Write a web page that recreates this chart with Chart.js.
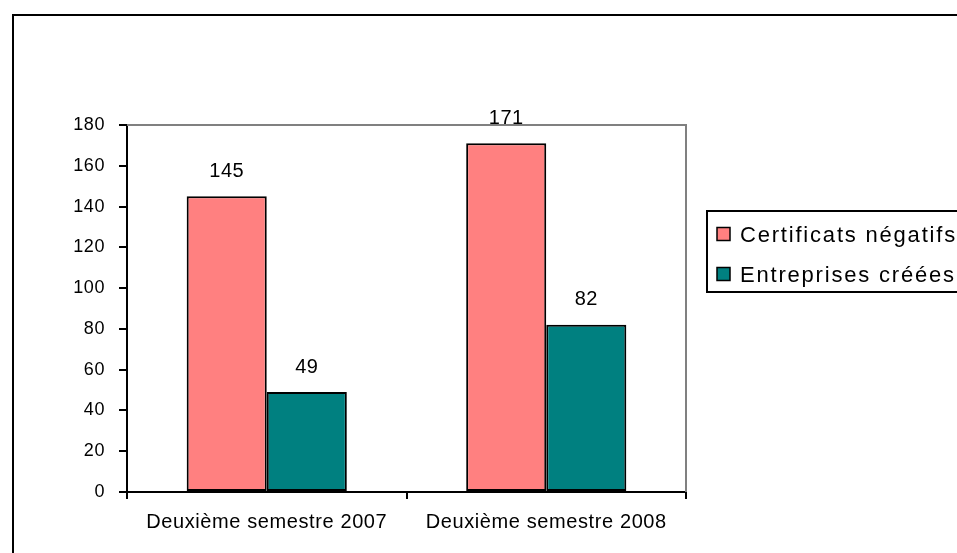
<!DOCTYPE html>
<html>
<head>
<meta charset="utf-8">
<script src="https://cdn.jsdelivr.net/npm/chart.js@4.4.1/dist/chart.umd.min.js"></script>
<style>
html,body{margin:0;padding:0;background:#fff;}
#wrap{position:relative;width:957px;height:553px;}
</style>
</head>
<body>
<div id="wrap"><canvas id="c" width="957" height="553"></canvas></div>
<script>
const categories = ["Deuxième semestre 2007", "Deuxième semestre 2008"];
const certificatsNegatifs = [145, 171];
const entreprisesCreees = [49, 82];
const seriesNames = ["Certificats négatifs", "Entreprises créées"];
const yTicks = [0, 20, 40, 60, 80, 100, 120, 140, 160, 180];

const FONT = "'Liberation Sans', Arial, sans-serif";

const framePlugin = {
  id: 'frame',
  beforeDraw(chart) {
    const ctx = chart.ctx;
    ctx.save();
    ctx.fillStyle = '#fff';
    ctx.fillRect(0, 0, chart.width, chart.height);
    ctx.strokeStyle = '#000';
    ctx.lineWidth = 2;
    ctx.strokeRect(13, 15, chart.width + 20, chart.height + 20);
    ctx.restore();
    ctx.letterSpacing = '0.6px';
  },
  beforeDatasetsDraw(chart) {
    const ctx = chart.ctx, a = chart.chartArea;
    ctx.save();
    ctx.strokeStyle = '#808080';
    ctx.lineWidth = 2;
    ctx.beginPath();
    ctx.moveTo(a.left, a.top);
    ctx.lineTo(a.right, a.top);
    ctx.lineTo(a.right, a.bottom);
    ctx.stroke();
    ctx.restore();
  },
  afterDatasetsDraw(chart) {
    const ctx = chart.ctx;
    ctx.save();
    ctx.letterSpacing = '0.5px';
    ctx.fillStyle = '#000';
    ctx.font = '20px ' + FONT;
    ctx.textAlign = 'center';
    ctx.textBaseline = 'middle';
    chart.data.datasets.forEach((ds, i) => {
      const meta = chart.getDatasetMeta(i);
      meta.data.forEach((bar, j) => {
        ctx.fillText(String(ds.data[j]), bar.x, bar.y - 25);
      });
    });
    ctx.restore();
  },
  afterDraw(chart) {
    const ctx = chart.ctx;
    ctx.save();
    ctx.strokeStyle = '#000';
    ctx.lineWidth = 2;
    ctx.strokeRect(707, 211, 300, 81);
    ctx.font = '22px ' + FONT;
    ctx.letterSpacing = '1.8px';
    ctx.textAlign = 'left';
    ctx.textBaseline = 'alphabetic';
    const rows = [242, 282];
    chart.data.datasets.forEach((ds, i) => {
      const y = rows[i];
      ctx.fillStyle = ds.backgroundColor;
      ctx.fillRect(717, y - 14.5, 13, 13);
      ctx.lineWidth = 1.5;
      ctx.strokeStyle = '#000';
      ctx.strokeRect(717, y - 14.5, 13, 13);
      ctx.fillStyle = '#000';
      ctx.fillText(ds.label, 740, y);
    });
    ctx.restore();
  }
};

new Chart(document.getElementById('c'), {
  type: 'bar',
  data: {
    labels: categories,
    datasets: [
      { label: seriesNames[0], data: certificatsNegatifs, backgroundColor: '#FF8080', borderColor: '#000', borderWidth: 2, borderSkipped: false },
      { label: seriesNames[1], data: entreprisesCreees, backgroundColor: '#008080', borderColor: '#000', borderWidth: 2, borderSkipped: false }
    ]
  },
  options: {
    responsive: false,
    animation: false,
    devicePixelRatio: 1,
    layout: { padding: { left: 0, top: 125, right: 271, bottom: 0 } },
    datasets: { bar: { categoryPercentage: 0.573, barPercentage: 1.0 } },
    plugins: { legend: { display: false }, tooltip: { enabled: false } },
    scales: {
      x: {
        offset: true,
        grid: { display: true, drawOnChartArea: false, drawTicks: true, tickLength: 7, color: '#000', lineWidth: 2, offset: true },
        border: { display: true, color: '#000', width: 2 },
        ticks: { color: '#000', font: { family: FONT, size: 20 }, padding: 11, maxRotation: 0, autoSkip: false },
        afterFit(scale) { scale.height = 61; }
      },
      y: {
        min: 0, max: 180,
        afterBuildTicks(scale) { scale.ticks = yTicks.map(v => ({ value: v })); },
        grid: { display: true, drawOnChartArea: false, drawTicks: true, tickLength: 8, color: '#000', lineWidth: 2 },
        border: { display: true, color: '#000', width: 2 },
        ticks: { color: '#000', font: { family: FONT, size: 18 }, padding: 14 },
        afterFit(scale) { scale.width = 127; }
      }
    }
  },
  plugins: [framePlugin]
});
</script>
</body>
</html>
